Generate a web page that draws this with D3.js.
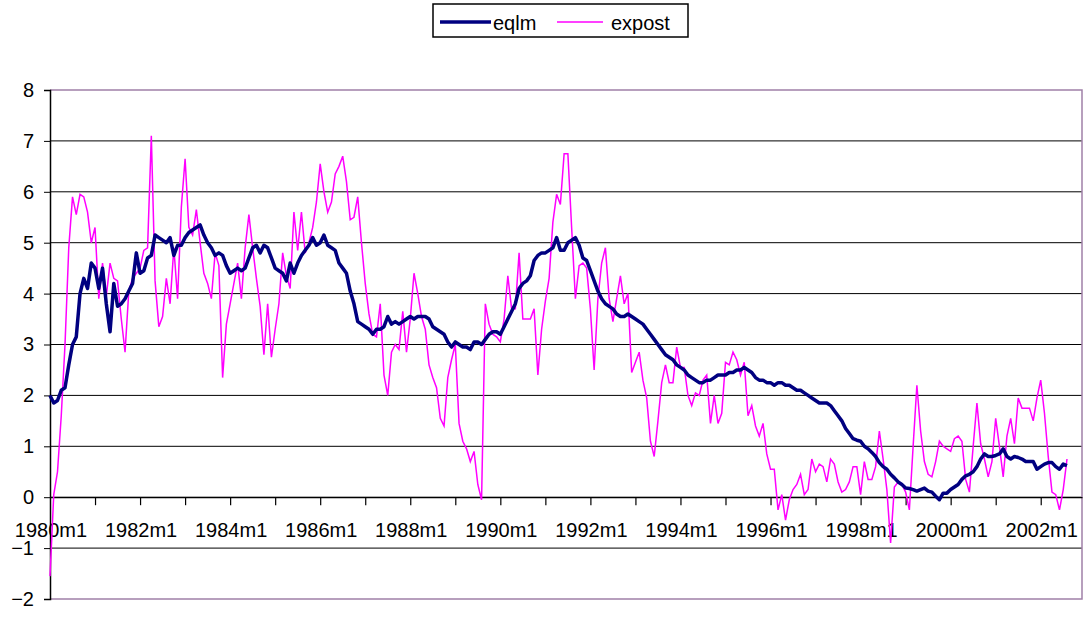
<!DOCTYPE html>
<html>
<head>
<meta charset="utf-8">
<script src="https://cdn.jsdelivr.net/npm/d3@7"></script>
<style>
  body { margin: 0; background: #fff; }
  text { font-family: "Liberation Sans", Arial, sans-serif; }
</style>
</head>
<body>
<svg id="chart" width="1089" height="622"></svg>
<script>
// monthly series, 1980m1 .. 2002m8
var eqlm = [
  2.0,1.85,1.9,2.1,2.15,2.6,3.0,3.15,4.0,4.3,4.1,4.6,
  4.5,4.1,4.5,3.8,3.25,4.2,3.75,3.8,3.9,4.05,4.2,4.8,
  4.4,4.45,4.7,4.75,5.15,5.1,5.05,5.0,5.1,4.75,4.95,4.95,
  5.1,5.2,5.25,5.3,5.35,5.15,5.0,4.9,4.75,4.8,4.75,4.55,
  4.4,4.45,4.5,4.45,4.5,4.7,4.9,4.95,4.8,4.95,4.9,4.7,
  4.5,4.45,4.4,4.25,4.6,4.4,4.6,4.75,4.85,4.95,5.1,4.95,
  5.0,5.15,4.95,4.9,4.85,4.6,4.5,4.4,4.05,3.8,3.45,3.4,
  3.35,3.3,3.2,3.3,3.3,3.35,3.55,3.4,3.45,3.4,3.45,3.5,
  3.55,3.5,3.55,3.55,3.55,3.5,3.35,3.3,3.25,3.2,3.05,2.95,
  3.05,3.0,2.95,2.95,2.9,3.05,3.05,3.0,3.1,3.2,3.25,3.25,
  3.2,3.35,3.5,3.65,3.8,4.1,4.2,4.25,4.35,4.65,4.75,4.8,
  4.8,4.85,4.9,5.1,4.85,4.85,5.0,5.05,5.1,4.95,4.7,4.65,
  4.45,4.25,4.05,3.9,3.8,3.75,3.7,3.6,3.55,3.55,3.6,3.55,
  3.5,3.45,3.4,3.3,3.2,3.1,3.0,2.9,2.8,2.75,2.7,2.6,
  2.55,2.5,2.4,2.35,2.3,2.25,2.25,2.3,2.3,2.35,2.4,2.4,
  2.4,2.45,2.45,2.5,2.5,2.55,2.5,2.45,2.35,2.3,2.3,2.25,
  2.25,2.2,2.25,2.25,2.2,2.2,2.15,2.1,2.1,2.05,2.0,1.95,
  1.9,1.85,1.85,1.85,1.8,1.7,1.6,1.5,1.35,1.25,1.15,1.12,
  1.1,1.0,0.95,0.88,0.8,0.68,0.6,0.55,0.45,0.38,0.3,0.25,
  0.18,0.17,0.15,0.12,0.15,0.18,0.12,0.1,0.02,-0.05,0.08,0.08,
  0.15,0.2,0.25,0.35,0.42,0.45,0.5,0.6,0.75,0.85,0.8,0.8,
  0.82,0.85,0.95,0.8,0.75,0.8,0.78,0.75,0.7,0.7,0.7,0.55,
  0.6,0.65,0.68,0.68,0.6,0.55,0.65,0.62
];
var expost = [
  -1.55,0.05,0.5,1.6,3.0,4.9,5.9,5.55,5.95,5.9,5.6,5.0,
  5.3,3.9,4.6,3.95,4.6,4.3,4.25,3.5,2.85,4.05,4.3,4.4,
  4.5,4.85,4.9,7.1,4.25,3.35,3.55,4.3,3.8,4.9,3.9,5.7,
  6.65,5.3,5.15,5.65,5.0,4.4,4.2,3.9,4.8,4.55,2.35,3.4,
  3.8,4.2,4.6,3.9,4.9,5.55,4.9,4.3,3.75,2.8,3.8,2.75,
  3.3,3.8,4.8,4.35,4.1,5.6,4.85,5.6,4.8,5.0,5.3,5.8,
  6.55,6.0,5.6,5.8,6.35,6.5,6.7,6.2,5.45,5.5,5.9,5.0,
  4.2,3.6,3.2,3.15,3.8,2.4,2.0,2.85,3.0,2.9,3.65,2.85,
  3.5,4.4,4.0,3.55,3.3,2.6,2.35,2.15,1.55,1.4,2.35,2.7,
  3.0,1.45,1.1,0.95,0.7,0.9,0.25,-0.05,3.8,3.4,3.2,3.15,
  3.05,3.5,4.35,3.7,3.7,4.8,3.5,3.5,3.5,3.7,2.4,3.3,
  3.85,4.3,5.4,5.95,5.75,6.75,6.75,5.3,3.9,4.55,4.6,4.5,
  3.7,2.5,3.9,4.6,4.9,3.9,3.45,3.9,4.35,3.8,4.0,2.45,
  2.65,2.85,2.3,1.95,1.1,0.8,1.5,2.25,2.6,2.25,2.25,2.95,
  2.55,2.55,2.0,1.8,2.05,2.0,2.3,2.4,1.45,2.0,1.45,1.65,
  2.65,2.6,2.85,2.7,2.4,2.65,1.6,1.8,1.4,1.2,1.45,0.85,
  0.55,0.55,-0.25,0.05,-0.45,-0.05,0.15,0.25,0.45,0.05,0.15,0.75,
  0.5,0.65,0.6,0.3,0.75,0.65,0.3,0.1,0.15,0.3,0.6,0.6,
  0.05,0.7,0.35,0.35,0.6,1.3,0.75,0.15,-0.9,0.2,0.3,0.25,
  0.1,-0.25,1.0,2.2,1.3,0.7,0.45,0.4,0.7,1.1,1.0,0.95,
  0.9,1.15,1.2,1.1,0.35,0.1,1.0,1.85,1.05,0.75,0.4,0.7,
  1.55,1.0,0.4,1.2,1.55,1.05,1.95,1.75,1.75,1.75,1.5,1.95,
  2.3,1.65,0.8,0.1,0.05,-0.25,0.15,0.75
];
var yTicks = [-2,-1,0,1,2,3,4,5,6,7,8];
var labelYears = [1980,1982,1984,1986,1988,1990,1992,1994,1996,1998,2000,2002];

var svg = d3.select("#chart");
var plotL = 50, plotR = 1082, plotT = 90, plotB = 599;

var x = d3.scaleLinear().domain([0, 275]).range([plotL, plotR]);
var y = d3.scaleLinear().domain([-2, 8]).range([plotB, plotT]);

// gridlines
svg.append("g").selectAll("line").data(yTicks.filter(function(d){ return d > -2 && d < 8; }))
  .enter().append("line")
  .attr("x1", plotL).attr("x2", plotR)
  .attr("y1", function(d){ return y(d); }).attr("y2", function(d){ return y(d); })
  .attr("stroke", "#000").attr("stroke-width", 1);

// plot border (top, right, bottom)
svg.append("path")
  .attr("d", "M" + plotL + "," + plotT + "H" + plotR + "V" + plotB + "H" + plotL)
  .attr("fill", "none").attr("stroke", "#a080a8").attr("stroke-width", 1.5);

// y axis
var yAxis = d3.axisLeft(y).tickValues(yTicks).tickSize(6).tickPadding(10);
var ya = svg.append("g").attr("transform", "translate(" + plotL + ",0)").call(yAxis);
ya.select(".domain").attr("stroke", "#000").attr("stroke-width", 1.5);
ya.selectAll("line").attr("stroke", "#000");
ya.selectAll("text").style("font-size", "20px").attr("fill", "#000").attr("font-family", "Liberation Sans, Arial, sans-serif");

// x axis at zero
var yearTicks = d3.range(1, 23).map(function(i){ return i * 12; });
var xAxis = d3.axisBottom(x).tickValues(yearTicks).tickSize(8).tickFormat("").tickSizeOuter(0);
var xa = svg.append("g").attr("transform", "translate(0," + y(0) + ")").call(xAxis);
xa.select(".domain").attr("stroke", "#000").attr("stroke-width", 1.2);
xa.selectAll("line").attr("stroke", "#000").attr("stroke-width", 1.2);
svg.append("g").selectAll("text").data(labelYears).enter().append("text")
  .attr("x", function(d){ return x((d - 1980) * 12) + 1; })
  .attr("y", y(0) + 40)
  .attr("text-anchor", "middle")
  .style("font-size", "20px")
  .text(function(d){ return d + "m1"; });

// series
var line = d3.line().x(function(d, i){ return x(i); }).y(function(d){ return y(d); });
svg.append("path").datum(expost).attr("d", line)
  .attr("fill", "none").attr("stroke", "#ff00ff").attr("stroke-width", 1.5);
svg.append("path").datum(eqlm).attr("d", line)
  .attr("fill", "none").attr("stroke", "#000080").attr("stroke-width", 3.5)
  .attr("stroke-linejoin", "round");

// legend
var lg = svg.append("g");
lg.append("rect").attr("x", 433).attr("y", 4).attr("width", 255).attr("height", 33)
  .attr("fill", "#fff").attr("stroke", "#000").attr("stroke-width", 1.5);
lg.append("line").attr("x1", 440).attr("x2", 491).attr("y1", 22).attr("y2", 22)
  .attr("stroke", "#000080").attr("stroke-width", 3.5);
lg.append("text").attr("x", 493).attr("y", 30).style("font-size", "20px").text("eqlm");
lg.append("line").attr("x1", 557).attr("x2", 603).attr("y1", 22).attr("y2", 22)
  .attr("stroke", "#ff00ff").attr("stroke-width", 1.5);
lg.append("text").attr("x", 611).attr("y", 30).style("font-size", "20px").text("expost");
</script>
</body>
</html>
